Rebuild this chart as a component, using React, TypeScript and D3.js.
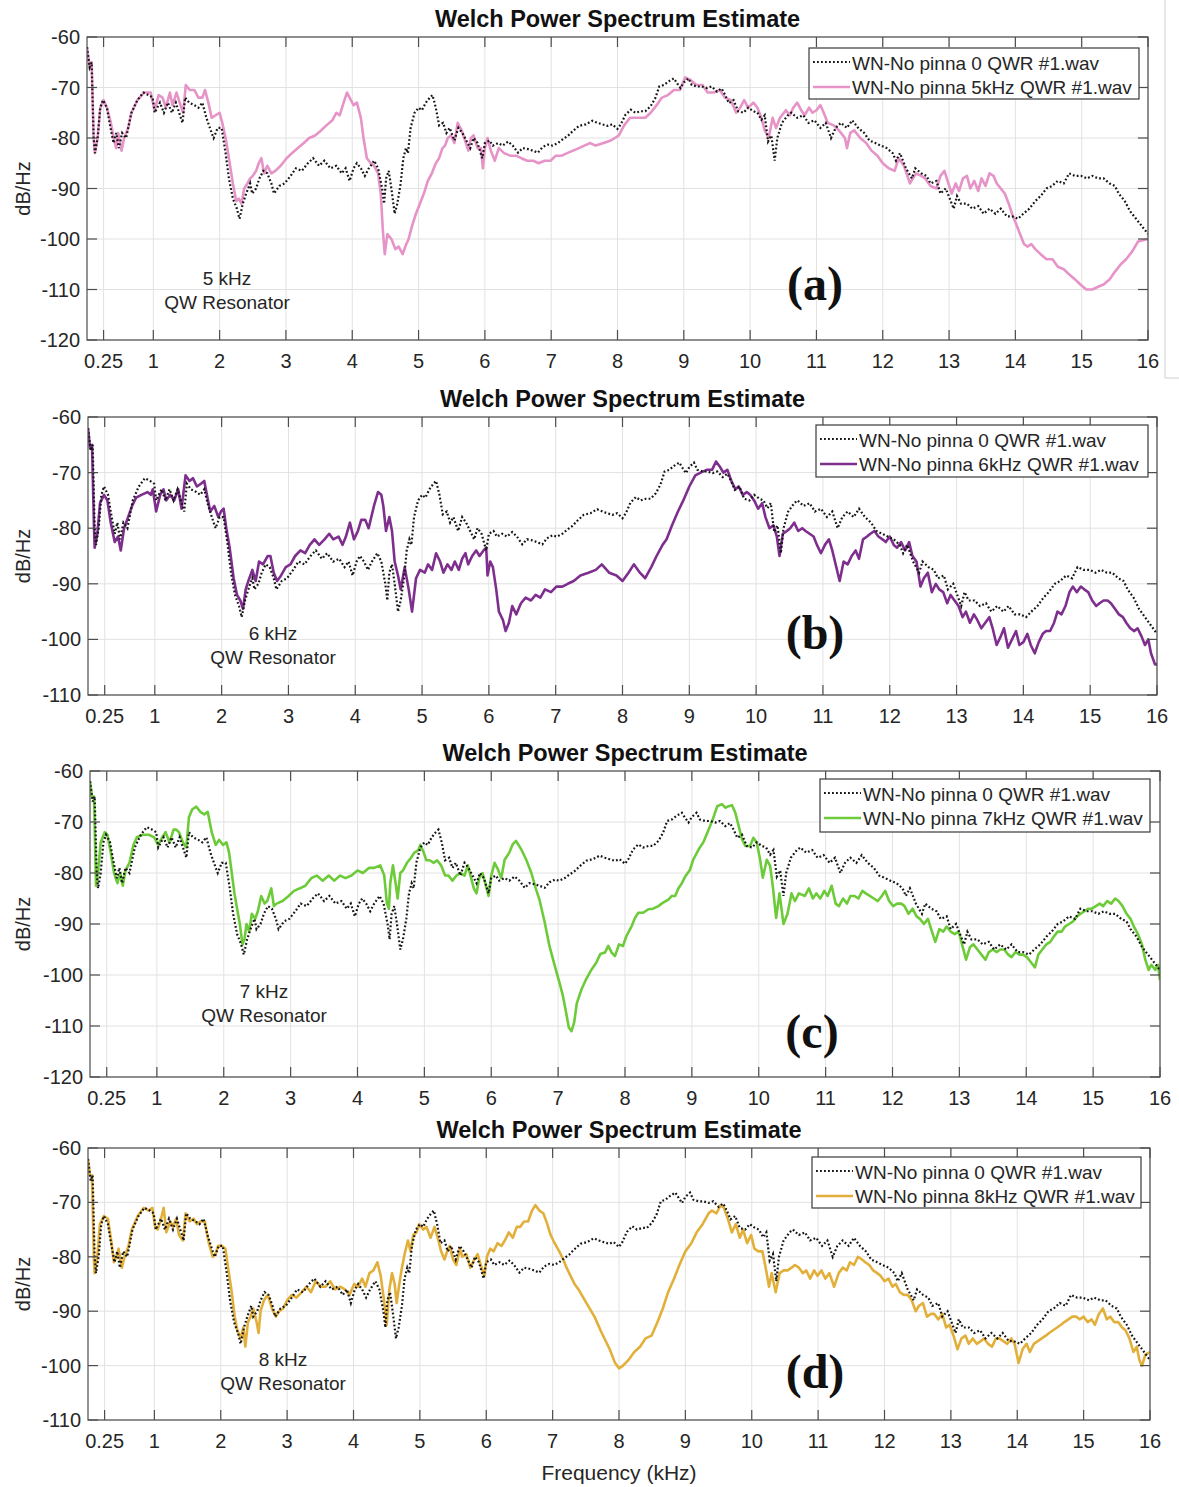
import * as d3 from "d3";

const WIDTH = 1179;
const HEIGHT = 1487;

// reference recording, the same file in all four panels
const REF_0QWR: [number, number][] = [
  [0, -62], [0.04, -66], [0.07, -65], [0.1, -80], [0.12, -83], [0.16, -80], [0.2, -74], [0.24, -72.5], [0.3, -74], [0.34, -77],
  [0.4, -81], [0.44, -79], [0.48, -82], [0.53, -79], [0.59, -80], [0.67, -75], [0.76, -72.5], [0.85, -71], [0.93, -71.5], [0.99, -72],
  [1.02, -75], [1.1, -73], [1.16, -75], [1.22, -73], [1.28, -75], [1.34, -73], [1.39, -75], [1.44, -77], [1.48, -72], [1.54, -73],
  [1.62, -73.5], [1.68, -74], [1.74, -73], [1.8, -76], [1.88, -79], [1.91, -80], [1.97, -78], [2.03, -78], [2.09, -83], [2.14, -88],
  [2.2, -92], [2.26, -94], [2.3, -96], [2.35, -93], [2.4, -91], [2.46, -89], [2.49, -91], [2.55, -90], [2.6, -88], [2.66, -86.5],
  [2.72, -87], [2.78, -89], [2.82, -91], [2.9, -89.5], [2.98, -89], [3.07, -87.5], [3.15, -86], [3.24, -86.5], [3.33, -85], [3.41, -84],
  [3.5, -85.5], [3.58, -84.5], [3.67, -86], [3.76, -85.5], [3.84, -87], [3.9, -86], [3.96, -88.5], [4.02, -86], [4.07, -85], [4.13, -86],
  [4.19, -87.5], [4.25, -86], [4.33, -84.5], [4.39, -86], [4.45, -90], [4.48, -93], [4.51, -88], [4.55, -86.5], [4.59, -90], [4.64, -95],
  [4.68, -93], [4.73, -89], [4.77, -84], [4.81, -82], [4.84, -83], [4.88, -78], [4.94, -75], [5.0, -74], [5.05, -74.5], [5.11, -73],
  [5.17, -72], [5.21, -71.5], [5.26, -74], [5.31, -77.5], [5.37, -77], [5.42, -79], [5.47, -78], [5.54, -80.5], [5.6, -78], [5.66, -79],
  [5.72, -80.5], [5.78, -82], [5.83, -80], [5.89, -81], [5.96, -84], [6.0, -81], [6.07, -80.5], [6.12, -81.5], [6.2, -81], [6.27, -81.5],
  [6.35, -80.7], [6.42, -81.5], [6.5, -82.9], [6.57, -82], [6.65, -82.2], [6.72, -82.5], [6.8, -82.9], [6.87, -81.8], [6.95, -81.3], [7.02, -81.5],
  [7.1, -81], [7.17, -80.3], [7.25, -79.6], [7.32, -78.7], [7.42, -77.6], [7.52, -77.3], [7.62, -76.6], [7.7, -77], [7.77, -77.3], [7.85, -77.6],
  [7.92, -77.3], [8.0, -78.2], [8.05, -77.3], [8.12, -75.4], [8.2, -74.4], [8.27, -75], [8.35, -74.7], [8.42, -74.7], [8.5, -73.7], [8.57, -72.1],
  [8.63, -69.8], [8.7, -69.5], [8.77, -68.8], [8.85, -68.2], [8.9, -69.2], [8.95, -70.1], [9.0, -69], [9.07, -68.2], [9.12, -69.5], [9.2, -69.8],
  [9.27, -69.8], [9.35, -70.1], [9.42, -69.8], [9.5, -70.8], [9.57, -70.2], [9.62, -71.4], [9.68, -73.1], [9.75, -72.5], [9.82, -74.7], [9.9, -75],
  [9.97, -74], [10.05, -74.7], [10.11, -75], [10.17, -76.4], [10.22, -75.5], [10.27, -80.7], [10.32, -79.5], [10.37, -84.5], [10.41, -80], [10.48, -77],
  [10.57, -75.5], [10.62, -75], [10.71, -76], [10.8, -75.5], [10.88, -77], [10.97, -76.5], [11.06, -78], [11.14, -77], [11.22, -80], [11.29, -78],
  [11.37, -77], [11.46, -78], [11.54, -76.5], [11.63, -78], [11.72, -79], [11.8, -80.5], [11.89, -81], [11.97, -81.5], [12.06, -82], [12.15, -83],
  [12.2, -84.5], [12.26, -83], [12.35, -86], [12.44, -88], [12.49, -86], [12.58, -87], [12.66, -87.5], [12.72, -89], [12.81, -88.5], [12.87, -91],
  [12.95, -90], [13.01, -92], [13.07, -94], [13.12, -91.5], [13.18, -93], [13.27, -93], [13.35, -94], [13.44, -93.5], [13.52, -95], [13.61, -94],
  [13.7, -95], [13.78, -94], [13.87, -95.5], [13.95, -95.5], [14.04, -96], [14.12, -95], [14.21, -94], [14.3, -92.5], [14.38, -91.5], [14.47, -90],
  [14.55, -89.5], [14.64, -88.5], [14.73, -89], [14.81, -87], [14.9, -87.5], [14.99, -87.5], [15.08, -88], [15.16, -87.5], [15.25, -88], [15.33, -88],
  [15.42, -89], [15.5, -89.5], [15.56, -91], [15.65, -92.5], [15.73, -94.5], [15.82, -96], [15.91, -97.5], [16.0, -99],
];

const QWR_5K: [number, number][] = [
  [0, -62], [0.04, -66], [0.07, -65], [0.1, -80], [0.12, -83], [0.16, -80], [0.2, -74], [0.25, -72.5], [0.3, -74], [0.36, -77],
  [0.4, -80], [0.44, -82], [0.47, -79], [0.52, -82.5], [0.56, -80], [0.62, -78], [0.67, -75], [0.76, -72.5], [0.86, -71], [0.96, -71],
  [1.02, -74.5], [1.08, -71.5], [1.14, -72], [1.19, -74], [1.25, -71], [1.29, -73.5], [1.35, -71], [1.41, -73.5], [1.45, -75], [1.49, -69.5],
  [1.55, -70.5], [1.62, -70.5], [1.68, -72], [1.74, -72], [1.78, -70.5], [1.83, -73], [1.88, -76], [1.94, -75.5], [2.0, -75], [2.04, -77],
  [2.09, -80], [2.14, -84], [2.2, -89], [2.25, -92.5], [2.29, -92], [2.33, -93], [2.37, -90], [2.42, -89], [2.46, -88], [2.5, -87.5],
  [2.55, -86.5], [2.59, -85], [2.63, -84], [2.67, -87], [2.72, -85.5], [2.78, -87], [2.84, -86.5], [2.92, -85.5], [3.01, -84], [3.09, -83],
  [3.18, -82], [3.27, -81], [3.35, -80], [3.44, -79.5], [3.53, -78.5], [3.61, -77.5], [3.7, -76.5], [3.76, -75], [3.81, -75.5], [3.87, -73],
  [3.92, -71], [3.96, -72], [4.02, -73.5], [4.07, -73], [4.13, -76], [4.17, -80], [4.22, -84], [4.28, -85], [4.33, -85.5], [4.39, -87],
  [4.43, -91], [4.46, -98], [4.49, -103], [4.53, -99], [4.59, -100], [4.65, -102], [4.7, -101.5], [4.76, -103], [4.8, -101.5], [4.85, -100],
  [4.9, -97.5], [4.96, -95], [5.02, -93], [5.08, -91], [5.14, -88.5], [5.2, -87], [5.26, -85], [5.31, -84], [5.36, -82], [5.4, -81.5],
  [5.44, -80], [5.49, -79.5], [5.54, -81], [5.59, -77], [5.65, -78.5], [5.69, -80], [5.75, -82.5], [5.79, -80], [5.83, -79.5], [5.89, -82],
  [5.94, -82], [5.97, -86], [6.0, -82], [6.04, -80], [6.09, -82.5], [6.15, -84.5], [6.21, -82], [6.29, -83], [6.38, -83.5], [6.47, -83.5],
  [6.55, -84], [6.64, -84.5], [6.73, -84.5], [6.81, -85], [6.9, -84.5], [6.99, -84.5], [7.07, -83.5], [7.16, -83.5], [7.24, -83], [7.33, -82.5],
  [7.42, -82], [7.5, -81.5], [7.59, -81], [7.67, -81.5], [7.79, -81], [7.9, -80.5], [8.02, -79.5], [8.1, -77.5], [8.19, -76], [8.3, -76],
  [8.42, -76], [8.5, -75], [8.59, -73.5], [8.67, -72], [8.76, -71.5], [8.85, -70.5], [8.94, -70.5], [9.02, -68], [9.1, -68.5], [9.19, -69.5],
  [9.28, -69.5], [9.36, -71], [9.45, -71], [9.54, -70.5], [9.62, -72], [9.71, -72.5], [9.79, -75], [9.85, -74], [9.91, -72.5], [9.97, -74],
  [10.05, -73], [10.11, -74], [10.17, -76], [10.22, -78.5], [10.28, -80], [10.34, -76], [10.39, -78], [10.45, -76], [10.54, -74.5], [10.6, -75.5],
  [10.65, -74], [10.71, -73], [10.77, -74.5], [10.82, -75.5], [10.89, -74], [10.94, -75], [11.0, -74.5], [11.06, -73.5], [11.11, -75], [11.17, -77],
  [11.26, -77.5], [11.34, -78.5], [11.43, -80], [11.46, -82], [11.51, -79], [11.57, -78.5], [11.66, -80], [11.75, -81], [11.83, -82.5], [11.92, -83.5],
  [12.0, -85], [12.09, -86], [12.18, -86.5], [12.24, -84], [12.32, -85.5], [12.41, -89], [12.5, -87], [12.58, -87.5], [12.64, -88], [12.72, -89.5],
  [12.81, -90], [12.87, -87.5], [12.93, -86.5], [12.99, -89], [13.04, -91], [13.1, -89], [13.15, -90.5], [13.21, -88], [13.27, -87.5], [13.32, -90],
  [13.38, -88.5], [13.44, -90.5], [13.49, -88], [13.55, -89.5], [13.61, -87], [13.67, -87.5], [13.72, -89], [13.78, -90], [13.84, -91], [13.9, -93],
  [13.95, -95], [14.01, -97], [14.07, -99], [14.13, -101], [14.18, -101.5], [14.24, -101], [14.3, -102], [14.38, -103], [14.47, -104], [14.56, -104],
  [14.64, -105.5], [14.73, -106], [14.81, -107], [14.9, -108], [14.98, -109], [15.07, -110], [15.16, -110], [15.24, -109.5], [15.33, -109], [15.42, -108],
  [15.5, -106.5], [15.59, -105], [15.67, -104], [15.76, -102.5], [15.85, -100.5], [16.0, -100],
];

const QWR_6K: [number, number][] = [
  [0, -62], [0.03, -65.5], [0.06, -65], [0.09, -80], [0.1, -83.5], [0.14, -81], [0.18, -75.5], [0.24, -74], [0.29, -75], [0.34, -79],
  [0.4, -82.5], [0.45, -81.5], [0.49, -84], [0.54, -80], [0.6, -78], [0.66, -76], [0.72, -74.5], [0.8, -74], [0.89, -73.5], [0.94, -74],
  [0.97, -73], [1.02, -77], [1.08, -74], [1.13, -73], [1.17, -75], [1.23, -74], [1.29, -75], [1.35, -73], [1.4, -76.5], [1.46, -70.5],
  [1.52, -71.5], [1.57, -71], [1.63, -72.5], [1.69, -72], [1.74, -71.5], [1.78, -74], [1.83, -77], [1.89, -76], [1.95, -78], [1.99, -77],
  [2.03, -76.5], [2.07, -80], [2.12, -83.5], [2.18, -89], [2.23, -92], [2.28, -93], [2.32, -94.5], [2.36, -91], [2.4, -89.5], [2.46, -87.5],
  [2.51, -89.5], [2.56, -86], [2.62, -86.5], [2.69, -85], [2.73, -85], [2.78, -88], [2.83, -89.5], [2.89, -88.5], [2.96, -87], [3.03, -86.5],
  [3.1, -85], [3.18, -84], [3.25, -84.5], [3.32, -83], [3.39, -82], [3.46, -83], [3.54, -82], [3.61, -81], [3.67, -82], [3.75, -81.5],
  [3.81, -83], [3.86, -81.5], [3.92, -79], [3.98, -82], [4.04, -80.5], [4.09, -78.5], [4.15, -78.5], [4.2, -80], [4.24, -78], [4.28, -76],
  [4.34, -73.5], [4.39, -74], [4.42, -76], [4.46, -80.5], [4.51, -78], [4.55, -80.5], [4.59, -86], [4.64, -88.5], [4.68, -91], [4.74, -87],
  [4.8, -91], [4.85, -95], [4.91, -89], [4.97, -87.5], [5.04, -88], [5.09, -86.5], [5.15, -87.5], [5.21, -84.5], [5.27, -86], [5.32, -88],
  [5.38, -86.5], [5.44, -87.5], [5.49, -86], [5.55, -87.5], [5.6, -85.5], [5.65, -84.5], [5.69, -86.5], [5.75, -85], [5.81, -84], [5.86, -85],
  [5.92, -84], [5.96, -83.5], [5.98, -88.5], [6.02, -86], [6.06, -87], [6.11, -91], [6.15, -95], [6.21, -96.5], [6.25, -98.5], [6.3, -97],
  [6.35, -94], [6.41, -95.5], [6.48, -93.5], [6.55, -92.5], [6.63, -93], [6.7, -92], [6.77, -92.5], [6.84, -91], [6.93, -91.5], [7.01, -90.5],
  [7.1, -90.5], [7.18, -90], [7.27, -89.5], [7.37, -88.5], [7.49, -88], [7.6, -87.5], [7.69, -86.5], [7.8, -88], [7.91, -88.5], [8.0, -89.5],
  [8.09, -88], [8.17, -86.5], [8.26, -88], [8.34, -89], [8.43, -87], [8.51, -85], [8.6, -83], [8.66, -82], [8.74, -79.5], [8.83, -77],
  [8.91, -75], [9.0, -72.5], [9.09, -70.5], [9.17, -70], [9.26, -69.5], [9.34, -69.5], [9.4, -68], [9.46, -69], [9.51, -70], [9.57, -69.5],
  [9.63, -71.5], [9.69, -73], [9.74, -72.5], [9.8, -74], [9.86, -73.5], [9.91, -74], [9.97, -75], [10.03, -76.5], [10.09, -75.5], [10.14, -78],
  [10.2, -80], [10.26, -79.5], [10.31, -81.5], [10.35, -85], [10.4, -81], [10.46, -80.5], [10.51, -80], [10.57, -79], [10.63, -80.5], [10.69, -80],
  [10.74, -80.5], [10.8, -81], [10.86, -81.5], [10.91, -83], [10.97, -84.5], [11.03, -83], [11.09, -82], [11.14, -84], [11.2, -87], [11.25, -89.5],
  [11.31, -86], [11.37, -86.5], [11.43, -85], [11.49, -84], [11.54, -85.5], [11.6, -82], [11.66, -81.5], [11.71, -81], [11.77, -80.5], [11.83, -81.5],
  [11.89, -82], [11.94, -82.5], [12.0, -81.5], [12.06, -83], [12.11, -83.5], [12.17, -82.5], [12.23, -84], [12.29, -82.5], [12.34, -85], [12.4, -86],
  [12.46, -90.5], [12.51, -89], [12.57, -88], [12.63, -91.5], [12.69, -90], [12.74, -91], [12.8, -91.5], [12.86, -93.5], [12.91, -92], [12.97, -93],
  [13.03, -94], [13.09, -96], [13.14, -95], [13.2, -97], [13.26, -95.5], [13.31, -96.5], [13.37, -98], [13.43, -97], [13.49, -96], [13.54, -98],
  [13.6, -101], [13.66, -99.5], [13.71, -98], [13.77, -101.5], [13.83, -100], [13.89, -98.5], [13.94, -101], [14.0, -100.5], [14.06, -99], [14.11, -101],
  [14.17, -102.5], [14.23, -100.5], [14.29, -99], [14.34, -98.5], [14.4, -98.5], [14.46, -97], [14.51, -95], [14.57, -95.5], [14.63, -94], [14.69, -91.5],
  [14.74, -90.5], [14.8, -91.5], [14.86, -90.5], [14.91, -91], [14.97, -91.5], [15.03, -93], [15.09, -94], [15.14, -93.5], [15.2, -93], [15.26, -93],
  [15.31, -93.5], [15.37, -94.5], [15.43, -95.5], [15.49, -96], [15.54, -97], [15.6, -98], [15.66, -98.5], [15.71, -98], [15.77, -99.5], [15.82, -101],
  [15.87, -100], [15.91, -102.5], [15.97, -104.5], [16.0, -104.5],
];

const QWR_7K: [number, number][] = [
  [0, -62], [0.03, -65], [0.06, -65], [0.09, -82.5], [0.12, -80], [0.16, -74], [0.22, -72], [0.26, -72.5], [0.31, -76], [0.36, -80],
  [0.41, -82], [0.45, -80], [0.49, -82.5], [0.53, -79.5], [0.59, -78], [0.65, -74.5], [0.7, -73], [0.79, -72.5], [0.88, -72.5], [0.96, -73],
  [1.02, -74.5], [1.08, -73], [1.13, -72], [1.19, -74], [1.25, -71.5], [1.29, -71.5], [1.33, -72], [1.39, -74], [1.44, -75], [1.48, -69],
  [1.53, -67.5], [1.59, -67], [1.65, -68], [1.71, -68.5], [1.76, -68], [1.82, -72], [1.88, -74.5], [1.93, -73.5], [1.99, -74.5], [2.04, -74],
  [2.08, -76], [2.12, -80], [2.16, -84], [2.2, -87], [2.24, -90], [2.28, -94], [2.31, -93], [2.34, -90], [2.38, -91.5], [2.42, -88],
  [2.47, -89], [2.51, -87.5], [2.56, -84.5], [2.61, -86], [2.65, -85.5], [2.71, -83], [2.75, -86.5], [2.79, -86], [2.88, -85.5], [2.97, -84.5],
  [3.05, -83.5], [3.14, -83], [3.22, -82.5], [3.31, -81], [3.39, -80.5], [3.48, -81.5], [3.57, -80.5], [3.65, -81.5], [3.74, -80.5], [3.82, -81],
  [3.91, -80.5], [4.0, -79.5], [4.08, -80], [4.17, -79], [4.25, -79], [4.34, -78.5], [4.4, -80.5], [4.44, -86], [4.47, -87], [4.49, -82],
  [4.53, -78.5], [4.57, -82], [4.6, -85], [4.64, -80], [4.68, -79.5], [4.74, -78], [4.8, -77], [4.85, -76], [4.91, -75.5], [4.94, -74.5],
  [4.99, -76], [5.03, -77.5], [5.08, -77.5], [5.14, -78], [5.19, -77.5], [5.25, -78.5], [5.31, -80.5], [5.36, -80.5], [5.42, -81.5], [5.48, -80.5],
  [5.54, -80], [5.6, -80.5], [5.65, -78.5], [5.69, -80.5], [5.74, -83], [5.78, -84], [5.82, -81], [5.87, -80], [5.91, -82], [5.96, -84.5],
  [6.0, -80.5], [6.05, -78], [6.1, -79.3], [6.15, -81], [6.2, -77.4], [6.27, -76], [6.32, -74.4], [6.37, -73.7], [6.45, -75.4], [6.52, -77.3],
  [6.6, -80], [6.67, -83.2], [6.72, -85.2], [6.8, -89.7], [6.87, -94.3], [6.95, -98.2], [7.02, -101.5], [7.07, -104], [7.12, -107.4], [7.16, -110.3],
  [7.2, -111], [7.24, -109.3], [7.28, -105.5], [7.35, -102.8], [7.42, -100.8], [7.5, -98.9], [7.57, -97.6], [7.63, -95.9], [7.7, -95.6], [7.75, -94.3],
  [7.8, -95.6], [7.85, -96.3], [7.91, -94], [7.97, -94.3], [8.02, -92.4], [8.1, -90.4], [8.15, -88.8], [8.2, -87.8], [8.27, -87.8], [8.35, -87.1],
  [8.42, -87], [8.5, -86.5], [8.57, -85.8], [8.65, -85.2], [8.7, -84.5], [8.75, -84.5], [8.8, -83], [8.85, -82], [8.9, -80.7], [8.97, -79.4],
  [9.02, -77.4], [9.1, -75.4], [9.17, -74], [9.25, -71.5], [9.32, -69.2], [9.38, -66.9], [9.45, -66.5], [9.5, -67.2], [9.55, -66.9], [9.6, -66.7],
  [9.65, -68.2], [9.7, -70.8], [9.75, -73.4], [9.8, -74.7], [9.87, -74.7], [9.92, -73.1], [9.97, -74], [10.02, -77.3], [10.06, -80.9], [10.12, -77.4],
  [10.17, -78.6], [10.21, -82.6], [10.26, -88.8], [10.31, -84], [10.37, -90], [10.43, -88], [10.49, -84], [10.54, -85.5], [10.6, -84], [10.69, -84.5],
  [10.75, -83], [10.81, -85], [10.86, -84], [10.92, -85], [10.98, -83.5], [11.03, -84.5], [11.09, -82.5], [11.15, -86], [11.2, -86.5], [11.26, -85],
  [11.32, -86], [11.37, -84.5], [11.43, -84.5], [11.49, -85], [11.55, -83.5], [11.6, -84], [11.66, -84.5], [11.72, -85], [11.78, -85.5], [11.84, -84.5],
  [11.89, -83.5], [11.95, -85.5], [12.01, -86.5], [12.07, -86], [12.13, -86], [12.18, -86.5], [12.24, -88], [12.3, -87], [12.36, -88.5], [12.41, -89],
  [12.47, -90], [12.53, -89], [12.59, -91.5], [12.64, -93.5], [12.7, -91], [12.76, -91.5], [12.81, -90.5], [12.87, -91.5], [12.93, -92], [12.99, -91.5],
  [13.04, -94], [13.1, -97], [13.16, -94.5], [13.21, -94], [13.27, -95], [13.33, -96], [13.39, -97], [13.44, -95.5], [13.5, -95], [13.56, -95.5],
  [13.61, -95], [13.67, -95], [13.73, -96], [13.78, -96.5], [13.84, -95.5], [13.9, -96], [13.95, -96], [14.01, -96.5], [14.07, -97.5], [14.13, -98.5],
  [14.18, -96], [14.24, -95], [14.3, -94], [14.36, -93.5], [14.41, -92.5], [14.47, -91.5], [14.53, -91.5], [14.58, -90.5], [14.64, -90], [14.7, -89.5],
  [14.76, -88.5], [14.81, -88], [14.87, -87.5], [14.93, -87], [14.98, -87], [15.04, -86.5], [15.1, -86], [15.15, -86.5], [15.21, -85.5], [15.27, -86],
  [15.33, -85], [15.38, -85.5], [15.44, -86.5], [15.5, -88], [15.56, -89], [15.61, -90.5], [15.67, -92], [15.73, -94], [15.78, -97], [15.83, -99],
  [15.87, -98], [15.93, -99], [15.97, -98], [16.0, -101],
];

const QWR_8K: [number, number][] = [
  [0, -62], [0.03, -65], [0.06, -65], [0.09, -81], [0.1, -83], [0.14, -80], [0.18, -74], [0.24, -72.5], [0.3, -73], [0.35, -77],
  [0.39, -81], [0.43, -80], [0.46, -78.5], [0.51, -82], [0.55, -80], [0.61, -78], [0.66, -75], [0.75, -72.5], [0.84, -71], [0.92, -71.5],
  [0.97, -71], [1.01, -74.5], [1.05, -75], [1.1, -73], [1.14, -71], [1.18, -75.5], [1.24, -73.5], [1.28, -74.5], [1.33, -73], [1.37, -76],
  [1.43, -77], [1.47, -72], [1.53, -73.5], [1.59, -73], [1.64, -74], [1.7, -73.5], [1.76, -73.5], [1.82, -77.5], [1.88, -80], [1.92, -79.5],
  [1.96, -78], [2.02, -78], [2.07, -78.5], [2.11, -82], [2.16, -86], [2.21, -91], [2.25, -93.5], [2.3, -95], [2.34, -93], [2.37, -96.5],
  [2.41, -92], [2.45, -91], [2.49, -89.5], [2.54, -92], [2.57, -94], [2.6, -90], [2.65, -88], [2.71, -87], [2.77, -89.5], [2.83, -91],
  [2.88, -90], [2.94, -89.5], [3.0, -88], [3.07, -87], [3.14, -87.5], [3.22, -86.5], [3.29, -85.5], [3.36, -86.5], [3.43, -84.5], [3.51, -85.5],
  [3.58, -85.5], [3.65, -84.5], [3.72, -86], [3.8, -85.5], [3.87, -86], [3.94, -87], [4.01, -85], [4.07, -85.5], [4.13, -84], [4.18, -85.5],
  [4.24, -83], [4.3, -82.5], [4.36, -81], [4.41, -83.5], [4.46, -88], [4.5, -92.5], [4.54, -86], [4.58, -83], [4.62, -85], [4.65, -88.5],
  [4.69, -85], [4.73, -82], [4.77, -79.5], [4.82, -77], [4.86, -79], [4.9, -76], [4.95, -75.5], [4.99, -74], [5.05, -75], [5.1, -74.5],
  [5.16, -76.5], [5.22, -74.5], [5.28, -77], [5.32, -79], [5.37, -80.5], [5.41, -79], [5.45, -78], [5.5, -80.5], [5.55, -81.5], [5.6, -78.5],
  [5.64, -80], [5.7, -79.5], [5.76, -82], [5.82, -80.5], [5.87, -79.5], [5.93, -82], [5.97, -83.5], [6.01, -80], [6.06, -78.5], [6.11, -79],
  [6.17, -77.5], [6.23, -78], [6.28, -77], [6.34, -75.5], [6.4, -76.5], [6.46, -74.5], [6.51, -74.5], [6.57, -73.5], [6.63, -73.5], [6.69, -71.5],
  [6.74, -70.5], [6.8, -71.5], [6.86, -72], [6.92, -74], [6.97, -76], [7.03, -77.5], [7.1, -79], [7.16, -80.5], [7.21, -82], [7.27, -83.5],
  [7.33, -85], [7.39, -86], [7.51, -88.5], [7.63, -91], [7.74, -94], [7.86, -97], [7.94, -99.5], [8.0, -100.5], [8.06, -100], [8.14, -99],
  [8.23, -97.5], [8.32, -96.5], [8.4, -95], [8.49, -94.5], [8.58, -92], [8.66, -89.5], [8.74, -86.5], [8.83, -84], [8.91, -81.5], [9.0, -79],
  [9.09, -77.5], [9.17, -75.5], [9.26, -74], [9.35, -72], [9.4, -71.5], [9.47, -72], [9.53, -70.5], [9.58, -71], [9.64, -73], [9.7, -75.5],
  [9.76, -74], [9.82, -76.5], [9.87, -75], [9.93, -77.5], [9.99, -76], [10.04, -78.5], [10.1, -79], [10.16, -79], [10.21, -82], [10.26, -85.5],
  [10.3, -83], [10.36, -86.5], [10.42, -83], [10.48, -82.5], [10.54, -82.5], [10.6, -82], [10.65, -81.5], [10.71, -82], [10.77, -83], [10.82, -82.5],
  [10.88, -84], [10.94, -82.5], [10.99, -83.5], [11.05, -82.5], [11.11, -84], [11.17, -83], [11.24, -85.5], [11.31, -83], [11.37, -82], [11.43, -82.5],
  [11.48, -81], [11.54, -81.5], [11.6, -80], [11.66, -80.5], [11.71, -81], [11.77, -81.5], [11.83, -82.5], [11.89, -83], [11.94, -83.5], [12.0, -84.5],
  [12.06, -84], [12.12, -85.5], [12.17, -85], [12.23, -86.5], [12.29, -87], [12.35, -87], [12.41, -88], [12.47, -90], [12.52, -89], [12.58, -88.5],
  [12.64, -91], [12.7, -90.5], [12.75, -90.5], [12.81, -91.5], [12.87, -90.5], [12.93, -93], [12.98, -92.5], [13.04, -94.5], [13.1, -97], [13.16, -95],
  [13.22, -94.5], [13.27, -96], [13.33, -95], [13.39, -96], [13.45, -95.5], [13.5, -95], [13.56, -96], [13.62, -96.5], [13.68, -95], [13.73, -95],
  [13.79, -95.5], [13.85, -96], [13.91, -95], [13.96, -96], [14.02, -99.5], [14.08, -97], [14.14, -96], [14.19, -97.5], [14.25, -96], [14.31, -95.5],
  [14.37, -95], [14.43, -94.5], [14.48, -94], [14.54, -93.5], [14.6, -93], [14.66, -92.5], [14.71, -92], [14.77, -91.5], [14.83, -91], [14.89, -91],
  [14.94, -91.5], [15.0, -91], [15.06, -92], [15.12, -91.5], [15.17, -92.5], [15.23, -90.5], [15.29, -89.5], [15.35, -91.5], [15.4, -91], [15.46, -92],
  [15.52, -92], [15.58, -93], [15.63, -93.5], [15.69, -95], [15.75, -97.5], [15.8, -96.5], [15.84, -99], [15.88, -100], [15.93, -98], [16.0, -97.5],
];

const X_TICKS = [0.25, 1, 2, 3, 4, 5, 6, 7, 8, 9, 10, 11, 12, 13, 14, 15, 16];
const Y_TICKS_120 = [-60, -70, -80, -90, -100, -110, -120];
const Y_TICKS_110 = [-60, -70, -80, -90, -100, -110];

const REF_LABEL = "WN-No pinna 0 QWR #1.wav";
const SERIES_LABELS = [
  "WN-No pinna 5kHz QWR #1.wav",
  "WN-No pinna 6kHz QWR #1.wav",
  "WN-No pinna 7kHz QWR #1.wav",
  "WN-No pinna 8kHz QWR #1.wav",
];
const RESONATOR_LABELS = ["5 kHz", "6 kHz", "7 kHz", "8 kHz"];
const PANEL_TAGS = ["(a)", "(b)", "(c)", "(d)"];
const SERIES = [QWR_5K, QWR_6K, QWR_7K, QWR_8K];
const Y_TICK_SETS = [Y_TICKS_120, Y_TICKS_110, Y_TICKS_120, Y_TICKS_110];

const COLORS = ["#e693c8", "#7e2f8e", "#6dcb3a", "#e2b03a"];

// pixel layout of each panel
const LAYOUT = [
  { left: 87, right: 1148, top: 37, bottom: 340, legend: [809, 48, 330, 51], note: [227, 278], tag: [815, 283] },
  { left: 88, right: 1157, top: 417, bottom: 695, legend: [816, 425, 332, 52], note: [273, 633], tag: [815, 632] },
  { left: 90, right: 1160, top: 771, bottom: 1077, legend: [820, 779, 330, 53], note: [264, 991], tag: [812, 1031] },
  { left: 88, right: 1150, top: 1148, bottom: 1420, legend: [812, 1157, 329, 51], note: [283, 1359], tag: [815, 1371] },
];

const FONT = "'Liberation Sans', Arial, Helvetica, sans-serif";
const TEXT = "#262626";
const AXIS = "#4d4d4d";
const GRID = "#e2e2e2";

function Panel({ idx }: { idx: number }) {
  const L = LAYOUT[idx];
  const yTicks = Y_TICK_SETS[idx];
  const yMin = d3.min(yTicks) as number;
  const x = d3.scaleLinear().domain([0, 16]).range([L.left, L.right]);
  const y = d3.scaleLinear().domain([yMin, -60]).range([L.bottom, L.top]);
  const line = d3
    .line<[number, number]>()
    .x((d) => x(d[0]))
    .y((d) => y(d[1]));
  const clipId = `clip-${idx}`;
  const [lx, ly, lw, lh] = L.legend;
  const midX = (L.left + L.right) / 2;
  const midY = (L.top + L.bottom) / 2;
  const tick = 10;

  return (
    <g>
      <defs>
        <clipPath id={clipId}>
          <rect x={L.left} y={L.top} width={L.right - L.left} height={L.bottom - L.top} />
        </clipPath>
      </defs>
      <rect x={L.left} y={L.top} width={L.right - L.left} height={L.bottom - L.top} fill="#fff" />

      {X_TICKS.map((t) => (
        <line key={`gx${t}`} x1={x(t)} x2={x(t)} y1={L.top} y2={L.bottom} stroke={GRID} strokeWidth={1} />
      ))}
      {yTicks.map((t) => (
        <line key={`gy${t}`} x1={L.left} x2={L.right} y1={y(t)} y2={y(t)} stroke={GRID} strokeWidth={1} />
      ))}

      <g clipPath={`url(#${clipId})`}>
        <path d={line(SERIES[idx]) || ""} fill="none" stroke={COLORS[idx]} strokeWidth={2.6} strokeLinejoin="round" />
        <path
          d={line(REF_0QWR) || ""}
          fill="none"
          stroke="#161616"
          strokeWidth={2.2}
          strokeDasharray="1.8 2.2"
        />
      </g>

      <rect
        x={L.left}
        y={L.top}
        width={L.right - L.left}
        height={L.bottom - L.top}
        fill="none"
        stroke={AXIS}
        strokeWidth={1.2}
      />
      {X_TICKS.map((t) => (
        <g key={`tx${t}`}>
          <line x1={x(t)} x2={x(t)} y1={L.bottom} y2={L.bottom - tick} stroke={AXIS} strokeWidth={1.2} />
          <line x1={x(t)} x2={x(t)} y1={L.top} y2={L.top + tick} stroke={AXIS} strokeWidth={1.2} />
          <text
            x={x(t)}
            y={L.bottom + 21}
            textAnchor="middle"
            dominantBaseline="central"
            fontFamily={FONT}
            fontSize={20}
            fill={TEXT}
          >
            {t}
          </text>
        </g>
      ))}
      {yTicks.map((t) => (
        <g key={`ty${t}`}>
          <line x1={L.left} x2={L.left + tick} y1={y(t)} y2={y(t)} stroke={AXIS} strokeWidth={1.2} />
          <line x1={L.right} x2={L.right - tick} y1={y(t)} y2={y(t)} stroke={AXIS} strokeWidth={1.2} />
          <text
            x={L.left - 7}
            y={y(t)}
            textAnchor="end"
            dominantBaseline="central"
            fontFamily={FONT}
            fontSize={20}
            fill={TEXT}
          >
            {t}
          </text>
        </g>
      ))}

      <text
        x={midX}
        y={L.top - 18}
        textAnchor="middle"
        dominantBaseline="central"
        fontFamily={FONT}
        fontSize={23.5}
        fontWeight="bold"
        fill="#111"
      >
        Welch Power Spectrum Estimate
      </text>
      <text
        transform={`translate(23 ${midY}) rotate(-90)`}
        textAnchor="middle"
        dominantBaseline="central"
        fontFamily={FONT}
        fontSize={20}
        fill={TEXT}
      >
        dB/Hz
      </text>

      <text x={L.note[0]} y={L.note[1]} textAnchor="middle" dominantBaseline="central" fontFamily={FONT} fontSize={19} fill={TEXT}>
        {RESONATOR_LABELS[idx]}
      </text>
      <text
        x={L.note[0]}
        y={L.note[1] + 24}
        textAnchor="middle"
        dominantBaseline="central"
        fontFamily={FONT}
        fontSize={19}
        fill={TEXT}
      >
        QW Resonator
      </text>

      <text
        x={L.tag[0]}
        y={L.tag[1]}
        textAnchor="middle"
        dominantBaseline="central"
        fontFamily="'Liberation Serif', 'Times New Roman', serif"
        fontSize={48}
        fontWeight="bold"
        fill="#111"
      >
        {PANEL_TAGS[idx]}
      </text>

      <rect x={lx} y={ly} width={lw} height={lh} fill="#fff" stroke="#3a3a3a" strokeWidth={1.2} />
      <line
        x1={lx + 4}
        x2={lx + 41}
        y1={ly + 14}
        y2={ly + 14}
        stroke="#161616"
        strokeWidth={2}
        strokeDasharray="1.8 2.2"
      />
      <text x={lx + 43} y={ly + 15} dominantBaseline="central" fontFamily={FONT} fontSize={19} fill={TEXT}>
        {REF_LABEL}
      </text>
      <line x1={lx + 4} x2={lx + 41} y1={ly + 39} y2={ly + 39} stroke={COLORS[idx]} strokeWidth={2.6} />
      <text x={lx + 43} y={ly + 39} dominantBaseline="central" fontFamily={FONT} fontSize={19} fill={TEXT}>
        {SERIES_LABELS[idx]}
      </text>
    </g>
  );
}

export default function App() {
  return (
    <div style={{ position: "absolute", left: 0, top: 0 }}>
      <svg width={WIDTH} height={HEIGHT} viewBox={`0 0 ${WIDTH} ${HEIGHT}`} style={{ display: "block", background: "#fff" }}>
        <rect x={0} y={0} width={WIDTH} height={HEIGHT} fill="#fff" />
        {/* page border left over from the cropped figure */}
        <line x1={1165} x2={1165} y1={0} y2={378} stroke="#cfcfcf" strokeWidth={1} />
        <line x1={1165} x2={1179} y1={378} y2={378} stroke="#cfcfcf" strokeWidth={1} />
        {LAYOUT.map((_, i) => (
          <Panel key={i} idx={i} />
        ))}
        <text
          x={(LAYOUT[3].left + LAYOUT[3].right) / 2}
          y={1472}
          textAnchor="middle"
          dominantBaseline="central"
          fontFamily={FONT}
          fontSize={21}
          fill={TEXT}
        >
          Frequency (kHz)
        </text>
      </svg>
    </div>
  );
}
